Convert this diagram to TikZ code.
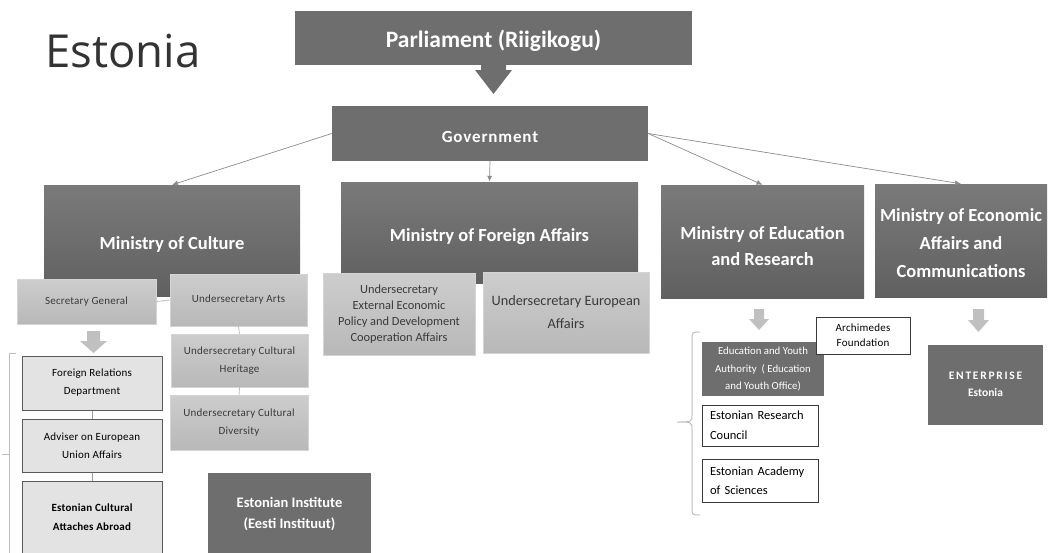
\documentclass[tikz,border=0pt]{standalone}
\usepackage{fontspec}
\setmainfont{Carlito}
\newfontfamily\titlefont{Open Sans}
\newfontfamily\spacedfont[LetterSpace=15]{Carlito}
\newfontfamily\govfont[LetterSpace=5]{Carlito}
\newfontfamily\lsfont[LetterSpace=2]{Carlito}
\usetikzlibrary{arrows.meta}
\definecolor{dark}{HTML}{6E6E6E}
\definecolor{mintop}{HTML}{7A7A7A}
\definecolor{minbot}{HTML}{606060}
\definecolor{ltop}{HTML}{CDCDCD}
\definecolor{lbot}{HTML}{B8B8B8}
\definecolor{lborder}{HTML}{D4D4D4}
\definecolor{txt}{HTML}{3A3A3A}
\definecolor{pale}{HTML}{E3E3E3}
\definecolor{paledraw}{HTML}{5A5A5A}
\definecolor{wdraw}{HTML}{3A3A3A}
\definecolor{linkc}{HTML}{8C8C8C}
\definecolor{thinc}{HTML}{BDBDBD}
\definecolor{arrowc}{HTML}{C0C0C0}
\definecolor{titlec}{HTML}{333333}
\newcommand{\lift}[1]{\rule{0pt}{#1}}
\tikzset{
  box/.style={rectangle, inner sep=0pt, align=center, text=white},
  darkbox/.style={box, fill=dark},
  minbox/.style={box, top color=mintop, bottom color=minbot, draw=none},
  lightbox/.style={box, top color=ltop, bottom color=lbot, text=txt, draw=lborder, line width=0.5pt},
  palebox/.style={box, fill=pale, draw=paledraw, line width=1pt, text=black},
  whitebox/.style={box, fill=white, draw=wdraw, line width=0.8pt, text=black},
  link/.style={draw=linkc, line width=0.7pt, -{Latex[length=6pt,width=5pt]}},
  thinlink/.style={draw=thinc, line width=0.8pt},
  bracketline/.style={draw=thinc, line width=1pt},
  blockarrow/.style={fill=arrowc, draw=none},
  minfont/.style={font=\fontsize{18.5}{26}\selectfont\bfseries},
  smallfont/.style={font=\lsfont\fontsize{11}{18}\selectfont},
}
\begin{document}
\begin{tikzpicture}[x=1pt,y=-1pt]
\path[use as bounding box] (0,0) rectangle (1054,552);
\clip (0,0) rectangle (1054,552);

% title
\node[anchor=base west, inner sep=0pt, text=titlec, font=\titlefont\fontsize{45.5}{50}\selectfont] (title) at (45,67) {Estonia};

% top level
\node[darkbox, minimum width=397pt, minimum height=54pt, font=\fontsize{23.5}{28}\selectfont\bfseries] (parl) at (493.5,38) {\lift{22pt}Parliament (Riigikogu)};
\fill[dark] (481,64) -- (506,64) -- (506,70) -- (512,70) -- (493.5,94) -- (475,70) -- (481,70) -- cycle;
\node[darkbox, minimum width=316pt, minimum height=55pt, font=\govfont\fontsize{17}{20}\selectfont\bfseries] (gov) at (490,133.5) {\lift{18pt}Government};

% ministries
\node[minbox, minimum width=256pt, minimum height=111pt, minfont] (cult) at (172,240.5) {\lift{21pt}Ministry of Culture};
\node[minbox, minimum width=297pt, minimum height=101pt, minfont] (forn) at (489.5,232.5) {\lift{21pt}Ministry of Foreign Affairs};
\node[minbox, minimum width=203pt, minimum height=113pt, minfont] (edu) at (762.5,241.5) {\lift{23pt}Ministry of Education\\and Research};
\node[minbox, minimum width=172pt, minimum height=113pt, font=\fontsize{18.5}{28}\selectfont\bfseries] (econ) at (961,240.5) {\lift{19pt}Ministry of Economic\\Affairs and\\Communications};

% government links
\draw[link] (gov.west) -- (cult.north);
\draw[link] (gov.south) -- (forn.north);
\draw[link] (gov.east) -- (edu.north);
\draw[link] (gov.east) -- (econ.north);

% culture branch
\node[lightbox, minimum width=139pt, minimum height=45pt, smallfont] (secgen) at (86.5,301.5) {Secretary General};
\node[lightbox, minimum width=137pt, minimum height=52pt, smallfont] (arts) at (238.5,300) {Undersecretary Arts};
\node[lightbox, minimum width=137pt, minimum height=53pt, smallfont] (herit) at (239.5,360.5) {Undersecretary Cultural\\Heritage};
\node[lightbox, minimum width=138pt, minimum height=55pt, smallfont] (divers) at (239,422.5) {Undersecretary Cultural\\Diversity};
\draw[thinlink] (secgen.east) -- (arts.west);
\draw[thinlink] (arts.south) -- (herit.north);
\draw[thinlink] (herit.south) -- (divers.north);

\fill[blockarrow] (87,331) -- (100,331) -- (100,341) -- (107,341) -- (93.5,353) -- (80,341) -- (87,341) -- cycle;

\node[palebox, minimum width=140pt, minimum height=54pt, smallfont] (frd) at (92,383) {Foreign Relations\\Department};
\node[palebox, minimum width=140pt, minimum height=53pt, smallfont] (adv) at (92,445.5) {Adviser on European\\Union Affairs};
\node[palebox, minimum width=140pt, minimum height=73pt, font=\lsfont\fontsize{11}{19}\selectfont\bfseries] (att) at (92,517.5) {Estonian Cultural\\Attaches Abroad};
\draw[thinlink, draw=paledraw!60] (frd.south) -- (adv.north);
\draw[thinlink, draw=paledraw!60] (adv.south) -- (att.north);

\coordinate (lbtop) at (16,353);
\coordinate (lbtip) at (2,454);
\coordinate (lbbot) at (9,560);
\draw[bracketline] (lbtop) -- (9,353) -- (lbbot);
\draw[bracketline] (9,454) -- (lbtip);

\node[darkbox, minimum width=163pt, minimum height=81pt, font=\fontsize{14.5}{21}\selectfont\bfseries] (inst) at (289.5,513.5) {Estonian Institute\\(Eesti Instituut)};

% foreign affairs branch
\node[lightbox, minimum width=152pt, minimum height=82pt, font=\fontsize{12.4}{16}\selectfont] (uext) at (399,314) {Undersecretary\\External Economic\\Policy and Development\\Cooperation Affairs};
\node[lightbox, minimum width=166pt, minimum height=81pt, font=\fontsize{14.3}{23}\selectfont] (ueur) at (566,312.5) {Undersecretary European\\Affairs};

% education branch
\fill[blockarrow] (754,309) -- (764,309) -- (764,319) -- (769,319) -- (759,330) -- (749,319) -- (754,319) -- cycle;
\node[darkbox, minimum width=122pt, minimum height=54pt, font=\fontsize{10.8}{17.5}\selectfont] (eya) at (763,369) {Education and Youth\\Authority~~( Education\\and Youth Office)};
\node[whitebox, minimum width=94pt, minimum height=37pt, font=\lsfont\fontsize{11}{15}\selectfont] (arch) at (863,335.5) {Archimedes\\Foundation};
\node[whitebox, minimum width=116pt, minimum height=41pt, text width=100pt, align=left, font=\fontsize{12.5}{20}\selectfont] (erc) at (760,425.5) {Estonian Research\\Council};
\node[whitebox, minimum width=116pt, minimum height=43pt, text width=100pt, align=left, font=\fontsize{12.5}{19}\selectfont] (eas) at (760,480.5) {Estonian Academy\\of Sciences};
\draw[bracketline] (700,332) .. controls (692,332) .. (692,340) -- (692,414) .. controls (692,422) .. (677,422) .. controls (692,422) .. (692,430) -- (692,507) .. controls (692,515) .. (700,515);

% economic branch
\fill[blockarrow] (973,309) -- (984,309) -- (984,320) -- (989,320) -- (978.5,332) -- (968,320) -- (973,320) -- cycle;
\node[darkbox, minimum width=115pt, minimum height=80pt, font=\fontsize{11.5}{17}\selectfont\bfseries] (ent) at (985.5,384.5) {{\spacedfont ENTERPRISE}\\Estonia};
\end{tikzpicture}
\end{document}
